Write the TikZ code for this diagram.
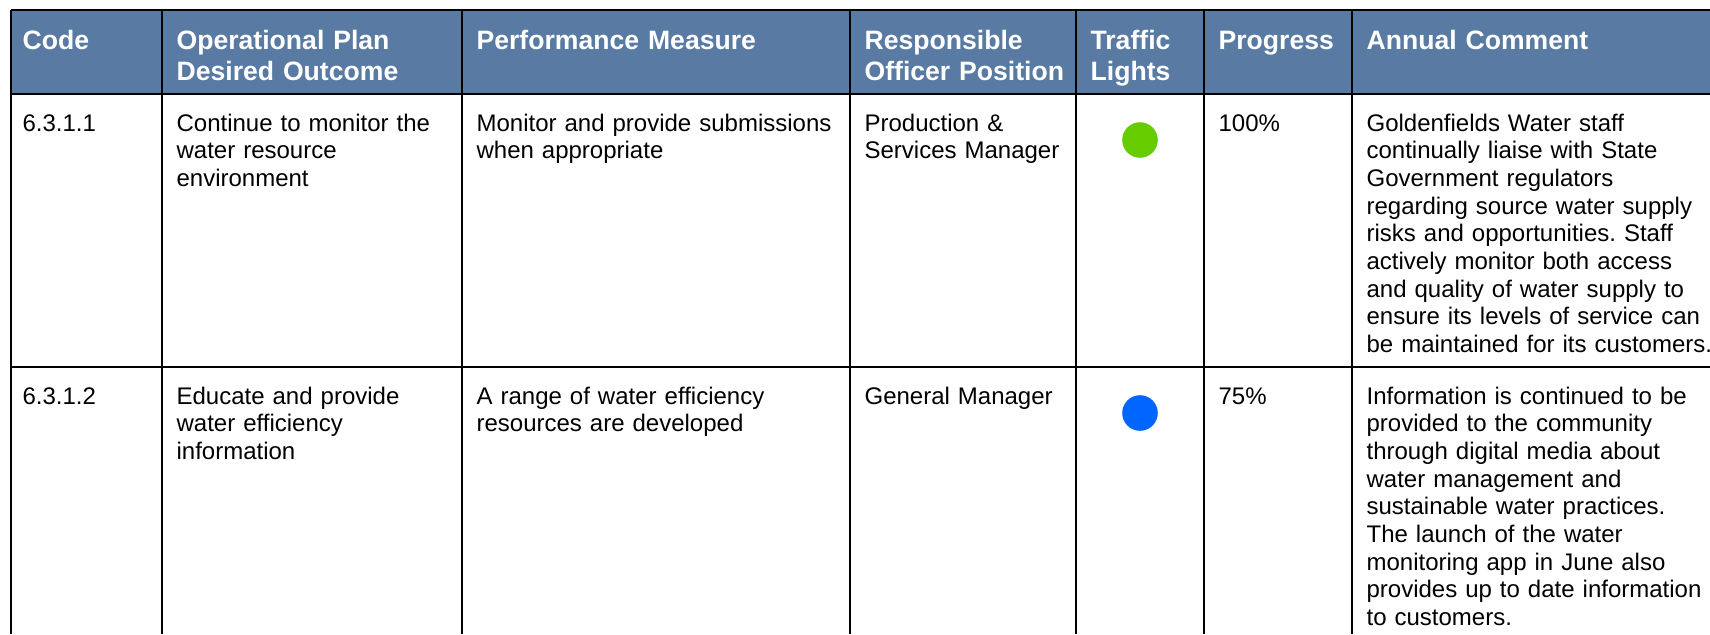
\documentclass[tikz,border=0pt]{standalone}
\usepackage{fontspec}
\setmainfont{Liberation Sans}
\usepackage{tikz}
\frenchspacing
\definecolor{headblue}{RGB}{88,122,163}
\definecolor{lightgreen}{RGB}{102,204,0}
\definecolor{lightblue}{RGB}{0,102,255}

\begin{document}
\begin{tikzpicture}[x=0.5pt, y=-0.5pt, line width=0.6pt]
\tikzstyle{head}=[anchor=base west, inner sep=0pt, text width=190pt, align=left, text=white, font=\fontsize{13.3}{15.5}\selectfont\bfseries]
\tikzstyle{cell}=[anchor=base west, inner sep=0pt, text width=190pt, align=left, text=black, font=\fontsize{12}{13.85}\selectfont]
\tikzstyle{light}=[circle, inner sep=0pt, minimum size=17.8pt]
\useasboundingbox (0,0) rectangle (1710,634);

% header band and grid
\fill[headblue] (11,10) rectangle (1710,94);
\foreach \y in {10,94,367}
  \draw (11,\y) -- (1710,\y);
\foreach \x in {11,162,462,850,1076,1204,1352}
  \draw (\x,10) -- (\x,634);

% header
\node[head] (hcode)  at (22,49)   {Code};
\node[head] (hplan)  at (176,49)  {Operational Plan\\Desired Outcome};
\node[head] (hmeas)  at (476,49)  {Performance Measure};
\node[head] (hoff)   at (864,49)  {Responsible\\Officer Position};
\node[head] (hlight) at (1090,49) {Traffic\\Lights};
\node[head] (hprog)  at (1218,49) {Progress};
\node[head] (hcomm)  at (1366,49) {Annual Comment};

% row 6.3.1.1
\node[cell] (code1) at (22,131)   {6.3.1.1};
\node[cell] (plan1) at (176,131)  {Continue to monitor the\\water resource\\environment};
\node[cell] (meas1) at (476,131)  {Monitor and provide submissions\\when appropriate};
\node[cell] (off1)  at (864,131)  {Production \&\\Services Manager};
\node[light, fill=lightgreen] (dot1) at (1140,140) {};
\node[cell] (prog1) at (1218,131) {100\%};
\node[cell] (comm1) at (1366,131) {Goldenfields Water staff\\continually liaise with State\\Government regulators\\regarding source water supply\\risks and opportunities. Staff\\actively monitor both access\\and quality of water supply to\\ensure its levels of service can\\be maintained for its customers.};

% row 6.3.1.2
\node[cell] (code2) at (22,404)   {6.3.1.2};
\node[cell] (plan2) at (176,404)  {Educate and provide\\water efficiency\\information};
\node[cell] (meas2) at (476,404)  {A range of water efficiency\\resources are developed};
\node[cell] (off2)  at (864,404)  {General Manager};
\node[light, fill=lightblue] (dot2) at (1140,413) {};
\node[cell] (prog2) at (1218,404) {75\%};
\node[cell] (comm2) at (1366,404) {Information is continued to be\\provided to the community\\through digital media about\\water management and\\sustainable water practices.\\The launch of the water\\monitoring app in June also\\provides up to date information\\to customers.};

\end{tikzpicture}
\end{document}
